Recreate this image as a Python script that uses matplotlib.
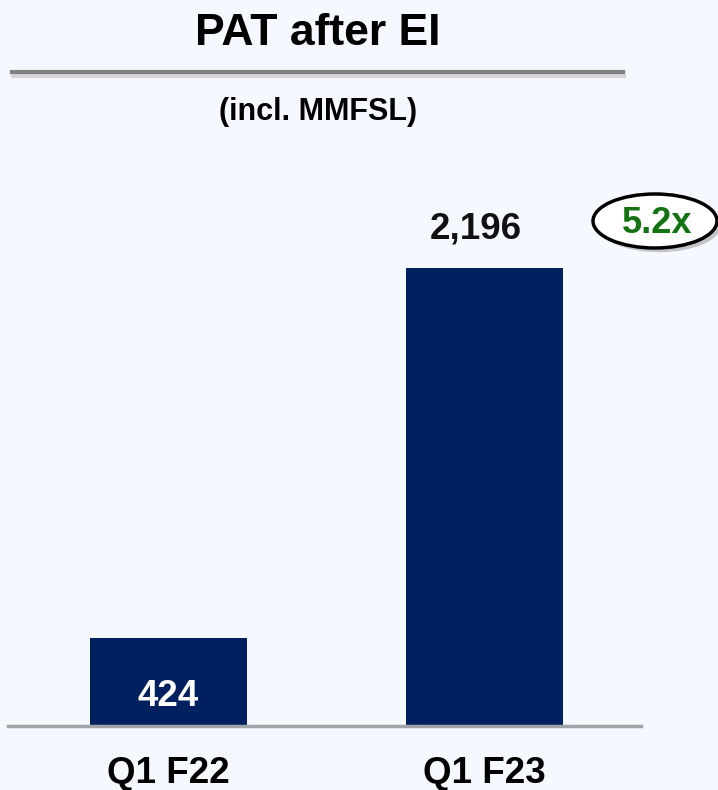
import matplotlib.pyplot as plt
from matplotlib.patches import Ellipse
import matplotlib.patheffects as pe

categories = ["Q1 F22", "Q1 F23"]
values = [424, 2196]
value_labels = ["424", "2,196"]
growth = "5.2x"

bg = "#F5F8FE"
bar_color = "#00205F"
font = "Liberation Sans"

fig = plt.figure(figsize=(7.18, 7.90), dpi=100)
fig.patch.set_facecolor(bg)

# axes placed in pixel terms: baseline at y=726px, x from 8 to 641px
W, H = 718, 790
ax = fig.add_axes([8 / W, (H - 726) / H, (641 - 8) / W, (726 - 150) / H])
ax.set_facecolor(bg)
x = list(range(len(categories)))
ax.bar(x, values, width=0.497, color=bar_color, zorder=2)
ax.set_xlim(-0.508, 1.495)
ax.set_ylim(0, 2762)
for s in ["top", "right", "left"]:
    ax.spines[s].set_visible(False)
ax.spines["bottom"].set_color("#A0A4A8")
ax.spines["bottom"].set_linewidth(2.5)
ax.set_yticks([])
ax.set_xticks([])

# category labels and values, baselines given in figure pixels
for xi, cat in zip(x, categories):
    ax.annotate(cat, xy=(xi, H - 783), xycoords=("data", "figure pixels"),
                ha="center", va="baseline", fontsize=26.5, fontweight="bold",
                family=font, color="black", annotation_clip=False)
ax.annotate(value_labels[0], xy=(x[0], H - 706), xycoords=("data", "figure pixels"),
            ha="center", va="baseline", color="white", fontsize=26.5,
            fontweight="bold", family=font)
ax.annotate(value_labels[1], xy=(x[1], H - 238), xycoords=("data", "figure pixels"),
            xytext=(-6, 0), textcoords="offset points",
            ha="center", va="baseline", color="#111111", fontsize=26.5,
            fontweight="bold", family=font, annotation_clip=False)

# title and rule
fig.text(318 / W, 1 - 45 / H, "PAT after EI", ha="center", va="baseline",
         fontsize=32, fontweight="bold", family=font)
rule = plt.Line2D([12 / W, 623 / W], [1 - 72 / H, 1 - 72 / H], color="#808080",
                  linewidth=3, transform=fig.transFigure,
                  path_effects=[pe.SimpleLineShadow(offset=(1, -3), shadow_color="#999999", alpha=0.35),
                                pe.Normal()])
fig.add_artist(rule)
fig.text(318 / W, 1 - 120 / H, "(incl. MMFSL)", ha="center", va="baseline",
         fontsize=22, fontweight="bold", family=font)

# growth badge
badge = Ellipse((655 / W, 1 - 221 / H), 124 / W, 54 / H, transform=fig.transFigure,
                facecolor="white", edgecolor="black", linewidth=2.5,
                path_effects=[pe.SimplePatchShadow(offset=(3, -3), alpha=0.3), pe.Normal()])
fig.add_artist(badge)
fig.text(657 / W, 1 - 233 / H, growth, ha="center", va="baseline", color="#137313",
         fontsize=26, fontweight="bold", family=font)

plt.savefig("out.png", dpi=100, facecolor=bg)
